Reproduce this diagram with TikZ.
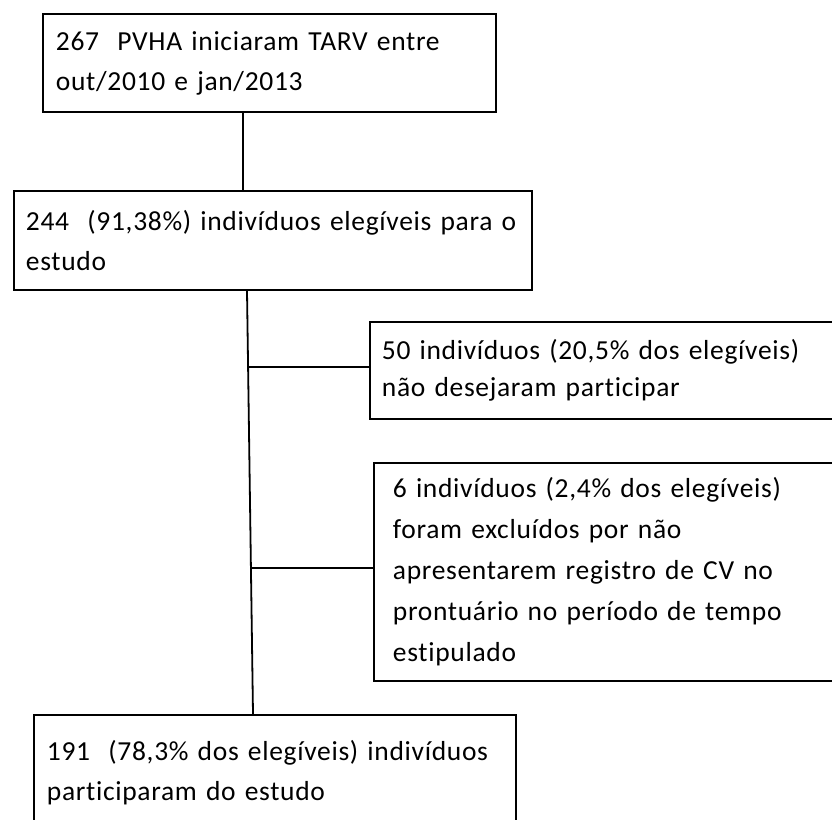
\documentclass[tikz,border=0pt]{standalone}
\usepackage{fontspec}
\setmainfont[LetterSpace=2.5, Ligatures=NoCommon]{Carlito}
\usetikzlibrary{positioning}

\tikzset{
	caixa/.style = {draw, line width = 1.8pt, anchor = north west, align = left,
		inner ysep = 0pt, font = \fontsize{27.5}{40}\selectfont},
	ligacao/.style = {line width = 1.8pt}
}

\begin{document}
\begin{tikzpicture}[x = 1pt, y = -1pt]
			\clip (0,0) rectangle (832,819);
			
			\coordinate (eixoA) at (243,0);
			\coordinate (eixoB) at (247,0);
			\coordinate (eixoC) at (253,0);
			
			\node [caixa, minimum height = 98, inner xsep = 13, text width = 427] (total) at (42,13)
				{267\ \ PVHA iniciaram TARV entre\\out/2010 e jan/2013};
			\node [caixa, minimum height = 99, inner xsep = 12, text width = 494] (elegiveis) at (13,190)
				{244\ \ (91,38\%) indivíduos elegíveis para o\\estudo};
			
			% caixas laterais (saem da margem direita)
			\node [caixa, minimum height = 97, inner xsep = 12, text width = 476,
				font = \fontsize{27.5}{37}\selectfont] (recusa) at (369,321)
				{50 indivíduos (20,5\% dos elegíveis)\\não desejaram participar};
			\node [caixa, minimum height = 218, inner xsep = 19, text width = 462,
				font = \fontsize{27.5}{41}\selectfont] (excluidos) at (373,462)
				{6 indivíduos (2,4\% dos elegíveis)\\foram excluídos por não\\apresentarem registro de CV no\\prontuário no período de tempo\\estipulado};
			
			\node [caixa, inner ysep = 25, inner xsep = 13, text width = 456] (participantes) at (33,714)
				{191\ \ (78,3\% dos elegíveis) indivíduos\\participaram do estudo};
			
			\draw [ligacao] (total.south -| eixoA) -- (elegiveis.north -| eixoA);
			\draw [ligacao] (elegiveis.south -| eixoB) -- (participantes.north -| eixoC);
			
			\begin{scope}[ligacao]
				\draw ([yshift = 3.5pt]recusa.west -| 248.1,0) -- ([yshift = 3.5pt]recusa.west);
				\draw ([yshift = 4pt]excluidos.west -| 250.9,0) -- ([yshift = 4pt]excluidos.west);
			\end{scope}
		\end{tikzpicture}
\end{document}
